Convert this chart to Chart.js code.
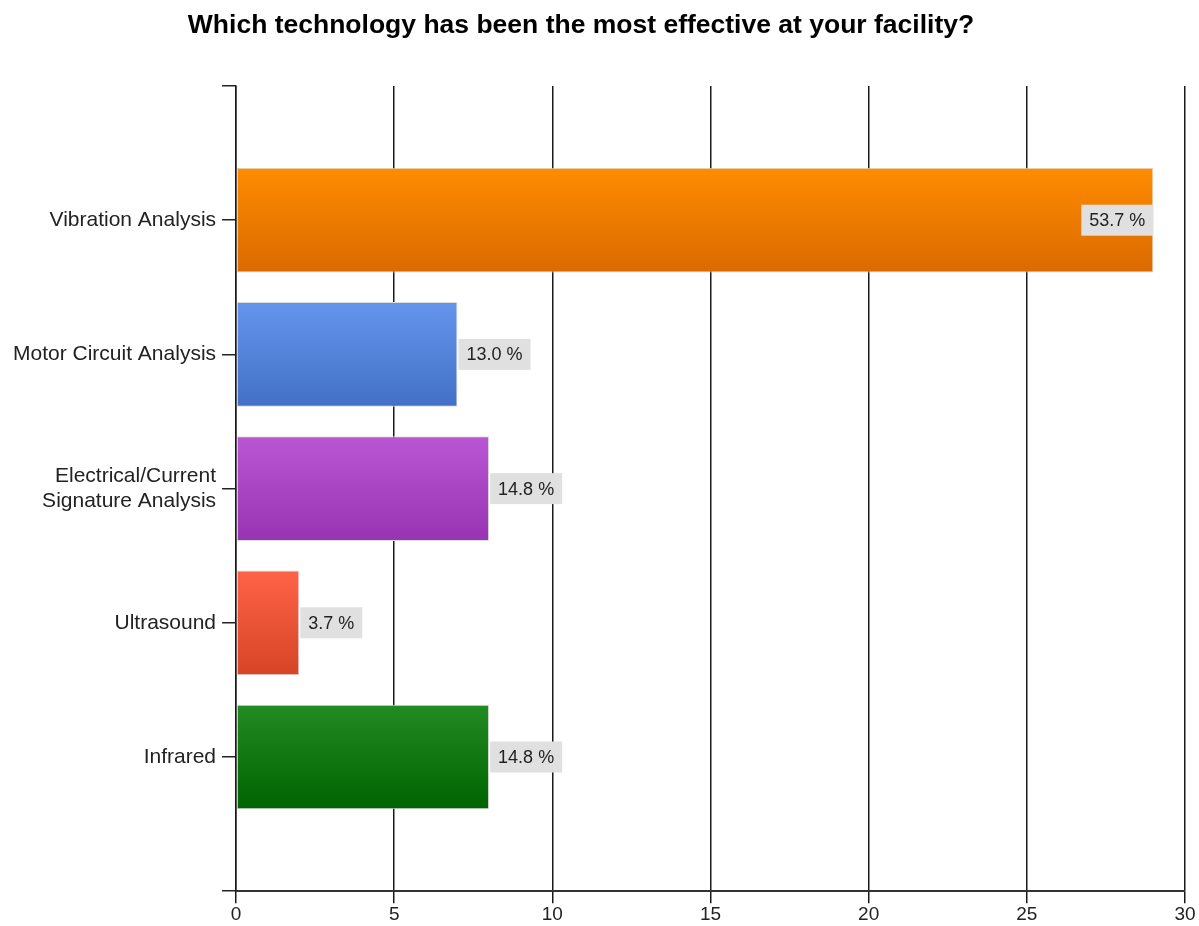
<!DOCTYPE html>
<html>
<head>
<meta charset="utf-8">
<title>Most effective technology</title>
<script src="https://cdn.jsdelivr.net/npm/chart.js@4.4.1/dist/chart.umd.min.js"></script>
<style>
  html, body { margin: 0; padding: 0; background: #fff; }
  #wrap { width: 1199px; height: 926px; }
</style>
</head>
<body>
<div id="wrap"><canvas id="techChart" width="1199" height="926"></canvas></div>
<script>
// survey answers (number of respondents)
const categories = [
    'Vibration Analysis',
    'Motor Circuit Analysis',
    ['Electrical/Current', 'Signature Analysis'],
    'Ultrasound',
    'Infrared'
];
const counts = [29, 7, 8, 2, 8];
const xTicks = [0, 5, 10, 15, 20, 25, 30];

// top/bottom colours of each bar's gradient
const topColors = ['#ff8c00', '#6495ed', '#ba55d3', '#ff6347', '#228b22'];
const bottomColors = ['#da6a00', '#4270c6', '#9833b2', '#d64426', '#006400'];

const total = counts.reduce((a, b) => a + b, 0);
const percents = counts.map(c => c / total * 100);

// blank slot above and below so the axis runs a full step past the first/last bar
const labels = [''].concat(categories, ['']);
const data = [null].concat(counts, [null]);

const FONT = 'Liberation Sans, Arial, sans-serif';
const TITLE = 'Which technology has been the most effective at your facility?';
const BAR_FRACTION = 0.78;

function barGradient(context) {
    const chart = context.chart;
    const i = context.dataIndex - 1;
    if (i < 0 || i >= counts.length) return '#999';
    const y = chart.scales.y;
    if (!chart.chartArea || !y) return topColors[i];
    const center = y.getPixelForValue(context.dataIndex);
    const half = (y.getPixelForValue(1) - y.getPixelForValue(0)) * BAR_FRACTION / 2;
    const g = chart.ctx.createLinearGradient(0, center - half, 0, center + half);
    g.addColorStop(0, topColors[i]);
    g.addColorStop(1, bottomColors[i]);
    return g;
}

// grey percentage tags next to (or inside) each bar
const percentTags = {
    id: 'percentTags',
    afterDatasetsDraw(chart) {
        const ctx = chart.ctx;
        const meta = chart.getDatasetMeta(0);
        ctx.save();
        ctx.font = '18px ' + FONT;
        ctx.textBaseline = 'middle';
        ctx.textAlign = 'left';
        meta.data.forEach((bar, idx) => {
            const i = idx - 1;
            if (i < 0 || i >= counts.length) return;
            const text = percents[i].toFixed(1) + ' %';
            const w = ctx.measureText(text).width + 16;
            const h = 31;
            let left = bar.x + 1;
            if (left + w > chart.chartArea.right - 4) left = bar.x - w;
            ctx.fillStyle = '#e0e0e0';
            ctx.fillRect(left, bar.y - h / 2, w, h);
            ctx.fillStyle = '#222';
            ctx.fillText(text, left + 8, bar.y + 1);
        });
        ctx.restore();
    }
};

// chart heading, sitting a little left of the canvas centre
const heading = {
    id: 'heading',
    afterDraw(chart) {
        const ctx = chart.ctx;
        ctx.save();
        ctx.font = 'bold 26.5px ' + FONT;
        ctx.fillStyle = '#000';
        ctx.textAlign = 'center';
        ctx.textBaseline = 'middle';
        ctx.fillText(TITLE, 581, 26);
        ctx.restore();
    }
};

new Chart(document.getElementById('techChart'), {
    type: 'bar',
    data: {
        labels: labels,
        datasets: [{
            data: data,
            backgroundColor: barGradient,
            borderColor: '#dcdcdc',
            borderWidth: 1,
            borderSkipped: false,
            categoryPercentage: BAR_FRACTION,
            barPercentage: 1
        }]
    },
    plugins: [percentTags, heading],
    options: {
        indexAxis: 'y',
        responsive: false,
        animation: false,
        layout: { padding: { left: 7, right: 14, top: 86, bottom: 0 } },
        plugins: {
            legend: { display: false },
            tooltip: { enabled: false },
            title: { display: false }
        },
        scales: {
            x: {
                type: 'linear',
                min: 0,
                max: 30,
                afterBuildTicks(axis) {
                    axis.ticks = xTicks.map(v => ({ value: v }));
                },
                grid: {
                    color: '#1a1a1a',
                    lineWidth: 1.5,
                    tickLength: 12,
                    drawTicks: true
                },
                border: { color: '#333', width: 2 },
                ticks: {
                    color: '#222',
                    padding: 0,
                    font: { family: FONT, size: 19 }
                }
            },
            y: {
                offset: false,
                grid: {
                    offset: false,
                    drawOnChartArea: false,
                    color: '#222',
                    lineWidth: 1.5,
                    tickLength: 14
                },
                border: { color: '#1a1a1a', width: 1.5 },
                ticks: {
                    color: '#222',
                    padding: 6,
                    autoSkip: false,
                    font: { family: FONT, size: 21 }
                }
            }
        }
    }
});
</script>
</body>
</html>
